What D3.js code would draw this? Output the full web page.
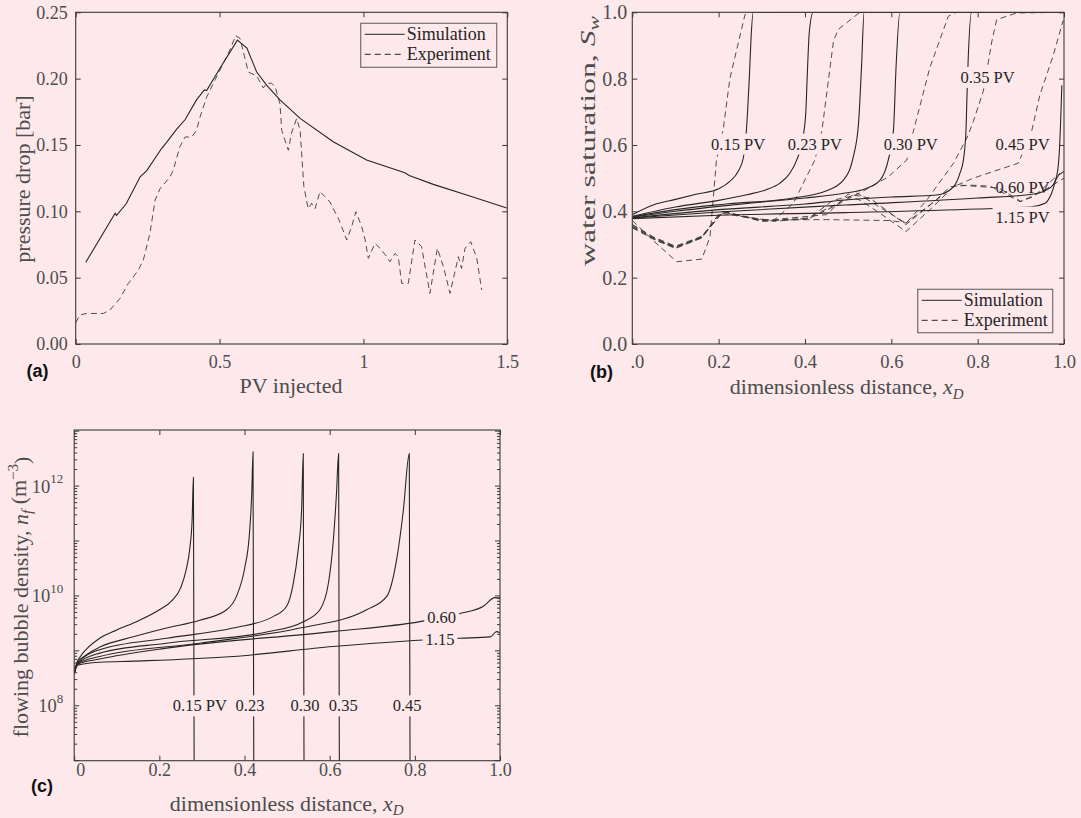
<!DOCTYPE html>
<html><head><meta charset="utf-8">
<script src="https://cdn.jsdelivr.net/npm/d3@7"></script>
<style>
body{margin:0;background:#fde8eb}
svg text{font-family:"Liberation Serif","Times New Roman",serif}
</style></head>
<body><svg id="chart" width="1081" height="818"></svg>
<script>
// ---------------- DATA ----------------
// Panel (a): pressure drop vs PV injected  [PV, bar]
const pressureSim = [[0.035,0.0616],[0.137,0.0985],[0.142,0.097],[0.175,0.1055],[0.224,0.126],[0.247,0.1307],[0.299,0.1475],[0.316,0.152],[0.351,0.162],[0.380,0.169],[0.420,0.184],[0.447,0.1915],[0.455,0.191],[0.502,0.208],[0.562,0.229],[0.595,0.223],[0.629,0.205],[0.664,0.195],[0.710,0.184],[0.780,0.170],[0.895,0.1525],[1.011,0.1387],[1.144,0.129],[1.159,0.127],[1.243,0.1203],[1.359,0.1123],[1.498,0.1025]];
const pressureExp = [[0,0.016],[0.015,0.0219],[0.038,0.023],[0.096,0.023],[0.119,0.0256],[0.154,0.0344],[0.183,0.0457],[0.218,0.0558],[0.235,0.0633],[0.258,0.0834],[0.276,0.1085],[0.293,0.117],[0.328,0.126],[0.339,0.131],[0.362,0.1487],[0.380,0.156],[0.403,0.156],[0.420,0.161],[0.432,0.171],[0.455,0.186],[0.484,0.199],[0.507,0.209],[0.536,0.2216],[0.556,0.2324],[0.571,0.2304],[0.600,0.205],[0.629,0.202],[0.652,0.193],[0.664,0.1965],[0.681,0.1965],[0.693,0.194],[0.710,0.181],[0.716,0.161],[0.739,0.146],[0.750,0.159],[0.768,0.170],[0.780,0.161],[0.793,0.1186],[0.808,0.102],[0.820,0.106],[0.832,0.102],[0.849,0.115],[0.866,0.111],[0.884,0.107],[0.895,0.102],[0.913,0.0947],[0.942,0.0784],[0.959,0.0884],[0.974,0.0997],[0.994,0.0884],[1.006,0.0784],[1.017,0.0646],[1.040,0.0759],[1.058,0.0721],[1.081,0.0658],[1.092,0.062],[1.110,0.0683],[1.121,0.0658],[1.133,0.0457],[1.156,0.0457],[1.179,0.0784],[1.202,0.0734],[1.231,0.0382],[1.257,0.0721],[1.278,0.0583],[1.301,0.0382],[1.330,0.0658],[1.341,0.057],[1.353,0.0721],[1.373,0.0771],[1.394,0.0646],[1.411,0.0407]];
const aXTicks = [0,0.5,1,1.5], aXLabels = ["0","0.5","1","1.5"];
const aYTicks = [0,0.05,0.10,0.15,0.20,0.25], aYLabels = ["0.00","0.05","0.10","0.15","0.20","0.25"];

// Panel (b): water saturation profiles [xD, Sw]
const satSim015 = [[0,0.39],[0.05,0.42],[0.1,0.436],[0.15,0.452],[0.2,0.468],[0.226,0.49],[0.245,0.52],[0.257,0.56],[0.263,0.62],[0.267,0.7],[0.271,0.8],[0.275,0.92],[0.28,1.0],[1.0,1.0]];
const satSim023 = [[0,0.385],[0.1,0.413],[0.2,0.433],[0.265,0.45],[0.31,0.465],[0.342,0.485],[0.365,0.515],[0.381,0.555],[0.395,0.62],[0.402,0.7],[0.405,0.8],[0.41,0.94],[0.419,1.0],[1.0,1.0]];
const satSim030 = [[0,0.383],[0.1,0.405],[0.217,0.422],[0.373,0.44],[0.45,0.462],[0.489,0.494],[0.512,0.565],[0.524,0.665],[0.531,0.836],[0.537,1.0],[1.0,1.0]];
const satSim035 = [[0,0.382],[0.1,0.4],[0.2,0.415],[0.3,0.428],[0.4,0.44],[0.493,0.455],[0.54,0.468],[0.574,0.494],[0.593,0.555],[0.605,0.645],[0.611,0.836],[0.62,1.0],[1.0,1.0]];
const satSim045 = [[0,0.38],[0.2,0.405],[0.4,0.422],[0.493,0.434],[0.6,0.443],[0.705,0.449],[0.744,0.474],[0.759,0.515],[0.767,0.555],[0.773,0.645],[0.775,0.736],[0.778,0.856],[0.786,1.0],[1.0,1.0]];
const satSim060 = [[0,0.38],[0.2,0.398],[0.493,0.419],[0.8,0.44],[0.93,0.452],[0.956,0.462],[0.975,0.48],[0.985,0.52],[0.99,0.6],[0.995,0.78]];
const satSim115 = [[0,0.378],[0.2,0.388],[0.493,0.396],[0.8,0.407],[0.925,0.414],[0.956,0.424],[0.971,0.454],[0.983,0.5],[1.0,0.52]];
const satExp015 = [[0,0.372],[0.05,0.31],[0.103,0.248],[0.161,0.256],[0.18,0.323],[0.195,0.555],[0.211,0.651],[0.226,0.8],[0.261,0.993],[0.272,1.0],[1.0,1.0]];
const satExp023 = [[0,0.36],[0.05,0.32],[0.1,0.29],[0.161,0.323],[0.203,0.395],[0.25,0.385],[0.327,0.372],[0.373,0.424],[0.423,0.555],[0.439,0.641],[0.466,0.913],[0.477,0.948],[0.527,1.0],[1.0,1.0]];
const satExp030 = [[0,0.355],[0.05,0.315],[0.1,0.288],[0.161,0.32],[0.205,0.4],[0.25,0.385],[0.33,0.37],[0.41,0.379],[0.46,0.41],[0.539,0.464],[0.593,0.504],[0.636,0.555],[0.651,0.641],[0.689,0.832],[0.732,0.988],[0.75,1.0],[1.0,1.0]];
const satExp035 = [[0,0.352],[0.05,0.318],[0.1,0.292],[0.161,0.322],[0.21,0.4],[0.3,0.37],[0.4,0.376],[0.47,0.42],[0.52,0.455],[0.634,0.364],[0.68,0.43],[0.744,0.545],[0.775,0.621],[0.79,0.671],[0.813,0.762],[0.833,0.913],[0.844,0.978],[0.89,0.998],[1.0,1.0]];
const satExp045 = [[0,0.35],[0.05,0.316],[0.1,0.29],[0.161,0.32],[0.21,0.4],[0.3,0.37],[0.41,0.38],[0.466,0.434],[0.504,0.444],[0.527,0.434],[0.574,0.394],[0.634,0.339],[0.697,0.414],[0.744,0.474],[0.79,0.5],[0.836,0.52],[0.894,0.545],[0.925,0.641],[0.944,0.75],[0.975,0.87],[0.998,0.975]];
const satExp060 = [[0,0.355],[0.05,0.32],[0.1,0.292],[0.161,0.322],[0.21,0.4],[0.3,0.372],[0.45,0.39],[0.5,0.452],[0.55,0.44],[0.634,0.36],[0.7,0.43],[0.736,0.474],[0.782,0.479],[0.829,0.476],[0.898,0.429],[0.929,0.444],[0.991,0.515]];
const satExp115 = [[0,0.36],[0.05,0.322],[0.1,0.295],[0.161,0.325],[0.21,0.398],[0.3,0.374],[0.45,0.375],[0.6,0.372],[0.634,0.365],[0.7,0.43],[0.75,0.48],[0.85,0.47],[0.9,0.43],[0.95,0.46],[1.0,0.5]];
const satSimSeries = [satSim015, satSim023, satSim030, satSim035, satSim045, satSim060, satSim115];
const satExpSeries = [satExp015, satExp023, satExp030, satExp035, satExp045, satExp060, satExp115];
const satLabels = [{t:"0.15 PV",x:0.245,y:0.603,bg:true},{t:"0.23 PV",x:0.423,y:0.603,bg:true},{t:"0.30 PV",x:0.645,y:0.603,bg:true},{t:"0.35 PV",x:0.823,y:0.804,bg:true},{t:"0.45 PV",x:0.904,y:0.603,bg:true},{t:"0.60 PV",x:0.904,y:0.472,bg:false},{t:"1.15 PV",x:0.904,y:0.383,bg:true}];
const bXTicks = [0,0.2,0.4,0.6,0.8,1.0], bXLabels = ["0.0","0.2","0.4","0.6","0.8","1.0"];
const bYTicks = [0,0.2,0.4,0.6,0.8,1.0], bYLabels = ["0.0","0.2","0.4","0.6","0.8","1.0"];

// Panel (c): flowing bubble density [xD, n_f (m^-3)]
const nf015 = [[0,3.9e8],[0.006,6.0e8],[0.015,8.0e8],[0.03,1.1e9],[0.06,1.7e9],[0.1,2.4e9],[0.15,3.5e9],[0.2,5.6e9],[0.23,8.3e9],[0.25,1.4e10],[0.262,2.8e10],[0.272,7.9e10],[0.277,2.5e11],[0.28,1.45e12],[0.282,1e6]];
const nf023 = [[0,3.9e8],[0.007,6.0e8],[0.029,8.5e8],[0.06,1.17e9],[0.139,1.8e9],[0.217,2.6e9],[0.295,3.6e9],[0.358,5.6e9],[0.381,9.8e9],[0.401,3.4e10],[0.411,1.2e11],[0.417,7.4e11],[0.42,4.2e12],[0.422,1e6]];
const nf030 = [[0,3.9e8],[0.008,6.0e8],[0.06,1.05e9],[0.217,1.7e9],[0.373,2.6e9],[0.467,4.2e9],[0.499,6.5e9],[0.514,1.6e10],[0.526,6.9e10],[0.534,3.6e11],[0.538,3.9e12],[0.54,1e6]];
const nf035 = [[0,3.9e8],[0.008,5.9e8],[0.06,9.1e8],[0.217,1.38e9],[0.452,2.2e9],[0.538,3.4e9],[0.577,5.6e9],[0.597,1.7e10],[0.608,9.1e10],[0.616,7.4e11],[0.621,3.9e12],[0.623,1e6]];
const nf045 = [[0,3.9e8],[0.008,5.8e8],[0.06,7.9e8],[0.295,1.38e9],[0.53,2.6e9],[0.687,5.6e9],[0.734,9.8e9],[0.757,4.5e10],[0.773,3.6e11],[0.787,3.9e12],[0.789,1e6]];
const nf060 = [[0,3.9e8],[0.008,5.7e8],[0.06,7.1e8],[0.217,1.12e9],[0.608,2.24e9],[0.812,3.4e9],[0.906,4.8e9],[0.961,6.5e9],[0.988,9.3e9],[1.0,9.1e9]];
const nf115 = [[0,3.9e8],[0.008,5.5e8],[0.06,6.2e8],[0.139,6.5e8],[0.373,7.9e8],[0.608,1.2e9],[0.82,1.58e9],[0.906,1.7e9],[0.977,1.8e9],[0.992,2.24e9],[1.0,2.1e9]];
const nfSeries = [nf015, nf023, nf030, nf035, nf045, nf060, nf115];
const nfLabels = [{t:"0.15 PV",x:0.295,v:1e8},{t:"0.23",x:0.413,v:1e8},{t:"0.30",x:0.542,v:1e8},{t:"0.35",x:0.632,v:1e8},{t:"0.45",x:0.782,v:1e8},{t:"0.60",x:0.863,v:4.1e9},{t:"1.15",x:0.859,v:1.65e9}];
const cXTicks = [0,0.2,0.4,0.6,0.8,1.0], cXLabels = ["0","0.2","0.4","0.6","0.8","1.0"];
const cYLabelTicks = [1e8,1e10,1e12], cYLabelExp = ["8","10","12"];
const legendItems = [{t:"Simulation",dash:null},{t:"Experiment",dash:"6,4"}];

// ---------------- DRAW ----------------
const BG = "#fde8eb", INK = "#262626", AX = "#3a3a3a", TXT = "#4d4d4d";
const svg = d3.select("#chart");
svg.append("rect").attr("width",1081).attr("height",818).attr("fill",BG);
let clipId = 0;

function panel(x, y){
  const g = svg.append("g");
  const [x0,x1] = x.range(), [y0,y1] = y.range();
  const id = "clip"+(clipId++);
  g.append("clipPath").attr("id",id).append("rect").attr("x",x0).attr("y",y1).attr("width",x1-x0).attr("height",y0-y1);
  const plot = g.append("g").attr("clip-path",`url(#${id})`);
  return {g, plot, x0, x1, y0, y1};
}
function styleAxis(s, size){
  s.select(".domain").remove();
  s.attr("font-family",null).attr("font-size",size||18);
  s.selectAll("line").attr("stroke",AX);
  s.selectAll("text").attr("fill",TXT);
}
function axes(P, x, y, xT, xL, yT, yL, padX, padY){
  P.g.append("g").attr("transform",`translate(0,${P.y0})`)
    .call(d3.axisBottom(x).tickValues(xT).tickFormat((d,i)=>xL?xL[i]:"").tickSizeInner(-5).tickSizeOuter(0).tickPadding(padX)).call(styleAxis);
  P.g.append("g").attr("transform",`translate(0,${P.y1})`)
    .call(d3.axisTop(x).tickValues(xT).tickFormat("").tickSizeInner(-5).tickSizeOuter(0)).call(styleAxis);
  if (yT){
    P.g.append("g").attr("transform",`translate(${P.x0},0)`)
      .call(d3.axisLeft(y).tickValues(yT).tickFormat((d,i)=>yL?yL[i]:"").tickSizeInner(-5).tickSizeOuter(0).tickPadding(padY)).call(styleAxis);
    P.g.append("g").attr("transform",`translate(${P.x1},0)`)
      .call(d3.axisRight(y).tickValues(yT).tickFormat("").tickSizeInner(-5).tickSizeOuter(0)).call(styleAxis);
  }
}
function frame(P){
  P.g.append("rect").attr("x",P.x0).attr("y",P.y1).attr("width",P.x1-P.x0).attr("height",P.y0-P.y1)
    .attr("fill","none").attr("stroke",AX).attr("stroke-width",1.1);
}
function drawLine(P, data, x, y, dashed, smooth){
  const line = d3.line().x(d=>x(d[0])).y(d=>y(d[1])).curve(smooth ? d3.curveMonotoneX : d3.curveLinear);
  P.plot.append("path").datum(data).attr("d",line).attr("fill","none")
    .attr("stroke", dashed ? "#3c3c3c" : INK)
    .attr("stroke-width", dashed ? 0.9 : 1.1)
    .attr("stroke-dasharray", dashed ? "6,4" : null);
}
function legend(P, bx, by, bw, bh){
  const g = P.g.append("g");
  g.append("rect").attr("x",bx).attr("y",by).attr("width",bw).attr("height",bh).attr("fill",BG).attr("stroke","#707070").attr("stroke-width",1.2);
  legendItems.forEach((it,i)=>{
    const yy = by + 11 + i*20;
    g.append("line").attr("x1",bx+4).attr("x2",bx+44).attr("y1",yy).attr("y2",yy)
      .attr("stroke",INK).attr("stroke-width",1).attr("stroke-dasharray",it.dash);
    g.append("text").attr("x",bx+46).attr("y",yy).attr("dy","0.34em").attr("font-size",18).attr("fill",INK).text(it.t);
  });
}
function textLabel(P, t, px, py, bg, size){
  const g = P.g.append("g");
  const tx = g.append("text").attr("x",px).attr("y",py).attr("dy","0.34em").attr("text-anchor","middle")
    .attr("font-size",size).attr("fill",INK).text(t);
  if (bg){
    const b = tx.node().getBBox();
    g.insert("rect","text").attr("x",b.x-3).attr("y",b.y-1).attr("width",b.width+6).attr("height",b.height+2).attr("fill",BG);
  }
}
function panelTag(t, px, py){
  svg.append("text").attr("x",px).attr("y",py).attr("dy","0.35em").attr("text-anchor","middle")
    .style("font-family","'Liberation Sans',Arial,sans-serif")
    .attr("font-weight","bold").attr("font-size",18).attr("fill","#111").text(t);
}

// ---- Panel (a)
{
  const x = d3.scaleLinear().domain([0,1.5]).range([75.7,507.3]);
  const y = d3.scaleLinear().domain([0,0.25]).range([344,12.3]);
  const P = panel(x,y);
  axes(P,x,y,aXTicks,aXLabels,aYTicks,aYLabels,11,8);
  drawLine(P,pressureExp,x,y,true,false);
  drawLine(P,pressureSim,x,y,false,false);
  frame(P);
  legend(P,360.7,23.3,136,44);
  P.g.append("text").attr("x",291).attr("y",385).attr("dy","0.35em").attr("text-anchor","middle").attr("font-size",22).attr("fill",TXT).text("PV injected");
  P.g.append("text").attr("transform","translate(22,179) rotate(-90)").attr("dy","0.35em").attr("text-anchor","middle").attr("font-size",22).attr("fill",TXT).text("pressure drop [bar]");
  panelTag("(a)",37.5,371);
}

// ---- Panel (b)
{
  const x = d3.scaleLinear().domain([0,1]).range([632.3,1064]);
  const y = d3.scaleLinear().domain([0,1]).range([344,12.3]);
  const P = panel(x,y);
  svg.append("clipPath").attr("id","bclip").append("rect").attr("x",631).attr("y",0).attr("width",450).attr("height",818);
  const xb = P.g.append("g").attr("clip-path","url(#bclip)");
  xb.append("g").attr("transform",`translate(0,${P.y0})`)
    .call(d3.axisBottom(x).tickValues(bXTicks).tickFormat((d,i)=>bXLabels[i]).tickSizeInner(-5).tickSizeOuter(0).tickPadding(11)).call(s=>styleAxis(s,18.5));
  P.g.append("g").attr("transform",`translate(0,${P.y1})`)
    .call(d3.axisTop(x).tickValues(bXTicks).tickFormat("").tickSizeInner(-5).tickSizeOuter(0)).call(styleAxis);
  P.g.append("g").attr("transform",`translate(${P.x0},0)`)
    .call(d3.axisLeft(y).tickValues(bYTicks).tickFormat((d,i)=>bYLabels[i]).tickSizeInner(-5).tickSizeOuter(0).tickPadding(5)).call(s=>styleAxis(s,20));
  P.g.append("g").attr("transform",`translate(${P.x1},0)`)
    .call(d3.axisRight(y).tickValues(bYTicks).tickFormat("").tickSizeInner(-5).tickSizeOuter(0)).call(styleAxis);
  satLabels.filter(l=>!l.bg).forEach(l=>textLabel(P,l.t,x(l.x),y(l.y),false,16.5));
  satExpSeries.forEach(s=>drawLine(P,s,x,y,true,false));
  satSimSeries.forEach(s=>drawLine(P,s,x,y,false,true));
  satLabels.filter(l=>l.bg).forEach(l=>textLabel(P,l.t,x(l.x),y(l.y),true,16.5));
  frame(P);
  legend(P,917.7,289.3,135,43.4);
  const xl = P.g.append("text").attr("x",846.7).attr("y",386.7).attr("dy","0.35em").attr("text-anchor","middle").attr("font-size",22).attr("fill",TXT);
  xl.append("tspan").text("dimensionless distance, ");
  xl.append("tspan").attr("font-style","italic").text("x");
  xl.append("tspan").attr("font-style","italic").attr("font-size",15).attr("dy","0.3em").text("D");
  const yl = P.g.append("text").attr("transform","translate(587,141) rotate(-90)").attr("dy","0.35em").attr("text-anchor","middle")
    .attr("font-size",22).attr("fill",TXT).attr("textLength",250).attr("lengthAdjust","spacingAndGlyphs");
  yl.append("tspan").text("water saturation, ");
  yl.append("tspan").attr("font-style","italic").text("S");
  yl.append("tspan").attr("font-style","italic").attr("font-size",15).attr("dy","0.3em").text("w");
  panelTag("(b)",601.5,372);
}

// ---- Panel (c)
{
  const x = d3.scaleLinear().domain([0,1]).range([74.2,500]);
  const y = d3.scaleLog().domain([1e7,1.05e13]).range([760.7,430]);
  const P = panel(x,y);
  axes(P,x,y,cXTicks,cXLabels,null,null,3,0);
  P.g.selectAll("text").filter(function(){return d3.select(this).text()==="0";}).attr("dx",6);
  const major = [], minor = [];
  for (let k=7;k<=13;k++){ const v=Math.pow(10,k); if (v<=y.domain()[1]) major.push(v);
    for (let m=2;m<=9;m++){ const w=m*Math.pow(10,k); if (w<y.domain()[1]) minor.push(w);} }
  [[major,5],[minor,3]].forEach(([vals,len])=>{
    vals.forEach(v=>{
      P.g.append("line").attr("x1",P.x0).attr("x2",P.x0+len).attr("y1",y(v)).attr("y2",y(v)).attr("stroke",AX);
      P.g.append("line").attr("x1",P.x1).attr("x2",P.x1-len).attr("y1",y(v)).attr("y2",y(v)).attr("stroke",AX);
    });
  });
  cYLabelTicks.forEach((v,i)=>{
    const t = P.g.append("text").attr("x",P.x0-11).attr("y",y(v)).attr("dy","0.35em").attr("text-anchor","end").attr("font-size",18.5).attr("fill",TXT);
    t.append("tspan").text("10");
    t.append("tspan").attr("font-size",13).attr("dy","-0.75em").text(cYLabelExp[i]);
  });
  nfSeries.forEach(s=>drawLine(P,s,x,y,false,true));
  nfLabels.forEach(l=>textLabel(P,l.t,x(l.x),y(l.v),true,16.5));
  frame(P);
  const xl = P.g.append("text").attr("x",286.7).attr("y",803).attr("dy","0.35em").attr("text-anchor","middle").attr("font-size",22).attr("fill",TXT);
  xl.append("tspan").text("dimensionless distance, ");
  xl.append("tspan").attr("font-style","italic").text("x");
  xl.append("tspan").attr("font-style","italic").attr("font-size",15).attr("dy","0.3em").text("D");
  const yl = P.g.append("text").attr("transform","translate(20,597) rotate(-90)").attr("dy","0.35em").attr("text-anchor","middle").attr("font-size",22).attr("fill",TXT);
  yl.append("tspan").text("flowing bubble density, ");
  yl.append("tspan").attr("font-style","italic").text("n");
  yl.append("tspan").attr("font-style","italic").attr("font-size",15).attr("dy","0.3em").text("f");
  yl.append("tspan").attr("dy","-0.3em").text(" (m");
  yl.append("tspan").attr("font-size",15).attr("dy","-0.5em").text("−3");
  yl.append("tspan").attr("dy","0.5em").text(")");
  panelTag("(c)",42,786);
}
</script></body></html>
